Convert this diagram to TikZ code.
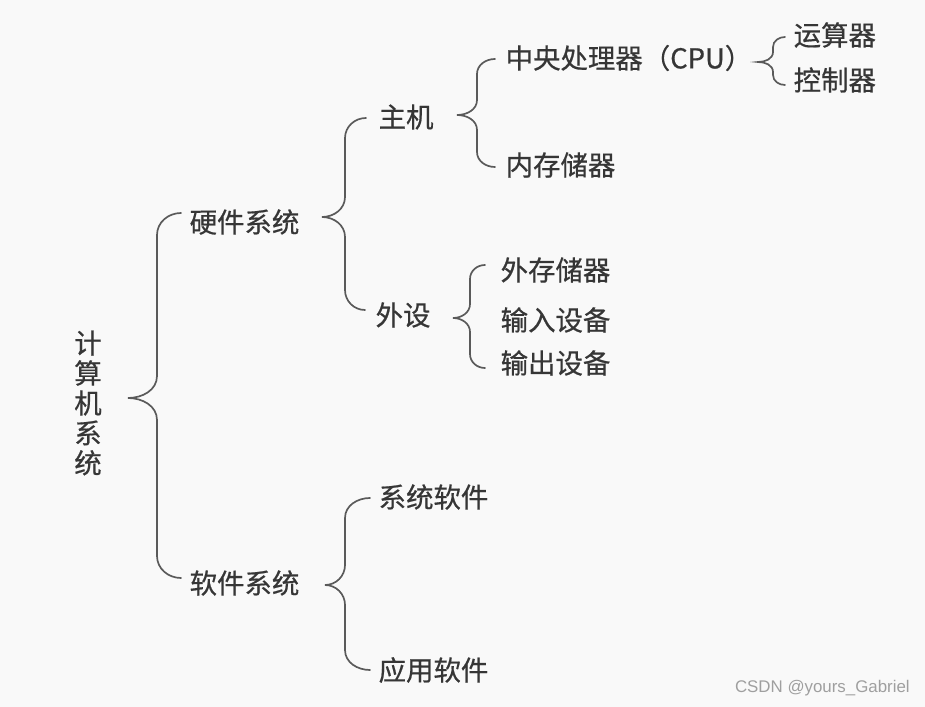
\documentclass[tikz,border=0pt]{standalone}
\usepackage{fontspec}
\newfontfamily\cjk[FakeBold=0.6]{Noto Sans CJK SC}
\setsansfont{Liberation Sans}
\usetikzlibrary{calc}

\definecolor{inkgray}{HTML}{363636}
\definecolor{linegray}{HTML}{5A5A5A}
\definecolor{paper}{HTML}{F9F9F9}

\begin{document}
\begin{tikzpicture}[x=0.025cm, y=-0.025cm,
  term/.style={anchor=west, inner sep=1pt, text=inkgray,
    font=\cjk\fontsize{19.5}{23}\selectfont},
  brace/.style={draw=linegray, line width=1.2pt, line cap=round}
]
  \fill[paper] (0,0) rectangle (925,707);
  \useasboundingbox (0,0) rectangle (925,707);

  % terms
  \node[term, anchor=center, align=center,
    font=\cjk\fontsize{19.5}{21.3}\selectfont] (root) at (88,403) {计\\算\\机\\系\\统};
  \node[term] (hw)   at (188,222) {硬件系统};
  \node[term] (sw)   at (188,583) {软件系统};
  \node[term] (host) at (377,117) {主机};
  \node[term] (peri) at (374,315) {外设};
  \node[term] (cpu)  at (504,58)  {中央处理器（CPU）};
  \node[term] (mem)  at (504,165) {内存储器};
  \node[term] (alu)  at (792,35)  {运算器};
  \node[term] (ctl)  at (792,80)  {控制器};
  \node[term] (ext)  at (499,270) {外存储器};
  \node[term] (inp)  at (499,320) {输入设备};
  \node[term] (outp) at (499,363) {输出设备};
  \node[term] (sys)  at (377,497) {系统软件};
  \node[term] (app)  at (377,670) {应用软件};

  % brace tips
  \coordinate (k0) at (128,398);
  \coordinate (k1) at (322,217);
  \coordinate (k2) at (457,115);
  \coordinate (k3) at (758,62);
  \coordinate (k4) at (453,318);
  \coordinate (k5) at (325,585);

  % braces
  \draw[brace] ([shift={(-7,-9)}]hw.west) to[out=180,in=90] ($(k0|-hw.west)+(29,13)$)
    -- ($(k0)+(29,-22)$) to[out=-90,in=0] (k0) to[out=0,in=90] ($(k0)+(29,22)$)
    -- ($(k0|-sw.west)+(29,-27)$) to[out=-90,in=180] ([shift={(-7,-5)}]sw.west);
  \draw[brace] ([shift={(-11,1)}]host.west) to[out=180,in=90] ($(k1|-host.west)+(23,21)$)
    -- ($(k1)+(23,-20)$) to[out=-90,in=0] (k1) to[out=0,in=90] ($(k1)+(23,20)$)
    -- ($(k1|-peri.west)+(23,-25)$) to[out=-90,in=180] ([shift={(-9,-5)}]peri.west);
  \draw[brace] ([shift={(-9,1)}]cpu.west) to[out=180,in=90] ($(k2|-cpu.west)+(20,16)$)
    -- ($(k2)+(20,-15)$) to[out=-90,in=0] (k2) to[out=0,in=90] ($(k2)+(20,15)$)
    -- ($(k2|-mem.west)+(20,-13)$) to[out=-90,in=180] ([shift={(-9,2)}]mem.west);
  \draw[brace] ([shift={(-7,2)}]alu.west) to[out=180,in=90] ($(k3|-alu.west)+(15,12)$)
    -- ($(k3)+(15,-10)$) to[out=-90,in=0] (k3) to[out=0,in=90] ($(k3)+(15,10)$)
    -- ($(k3|-ctl.west)+(15,-5)$) to[out=-90,in=180] ([shift={(-7,5)}]ctl.west);
  \draw[brace] ([shift={(-14,-5)}]ext.west) to[out=180,in=90] ($(k4|-ext.west)+(17,9)$)
    -- ($(k4)+(17,-14)$) to[out=-90,in=0] (k4) to[out=0,in=90] ($(k4)+(17,14)$)
    -- ($(k4|-outp.west)+(17,-9)$) to[out=-90,in=180] ([shift={(-14,5)}]outp.west);
  \draw[brace] ([shift={(-7,1)}]sys.west) to[out=180,in=90] ($(k5|-sys.west)+(20,21)$)
    -- ($(k5)+(20,-20)$) to[out=-90,in=0] (k5) to[out=0,in=90] ($(k5)+(20,20)$)
    -- ($(k5|-app.west)+(20,-20)$) to[out=-90,in=180] ([shift={(-7,0)}]app.west);

  % watermark
  \node[anchor=east, inner sep=0pt, text=gray!75, font=\sffamily\fontsize{12}{14}\selectfont]
    (mark) at (910,688) {CSDN @yours\_Gabriel};
\end{tikzpicture}
\end{document}
